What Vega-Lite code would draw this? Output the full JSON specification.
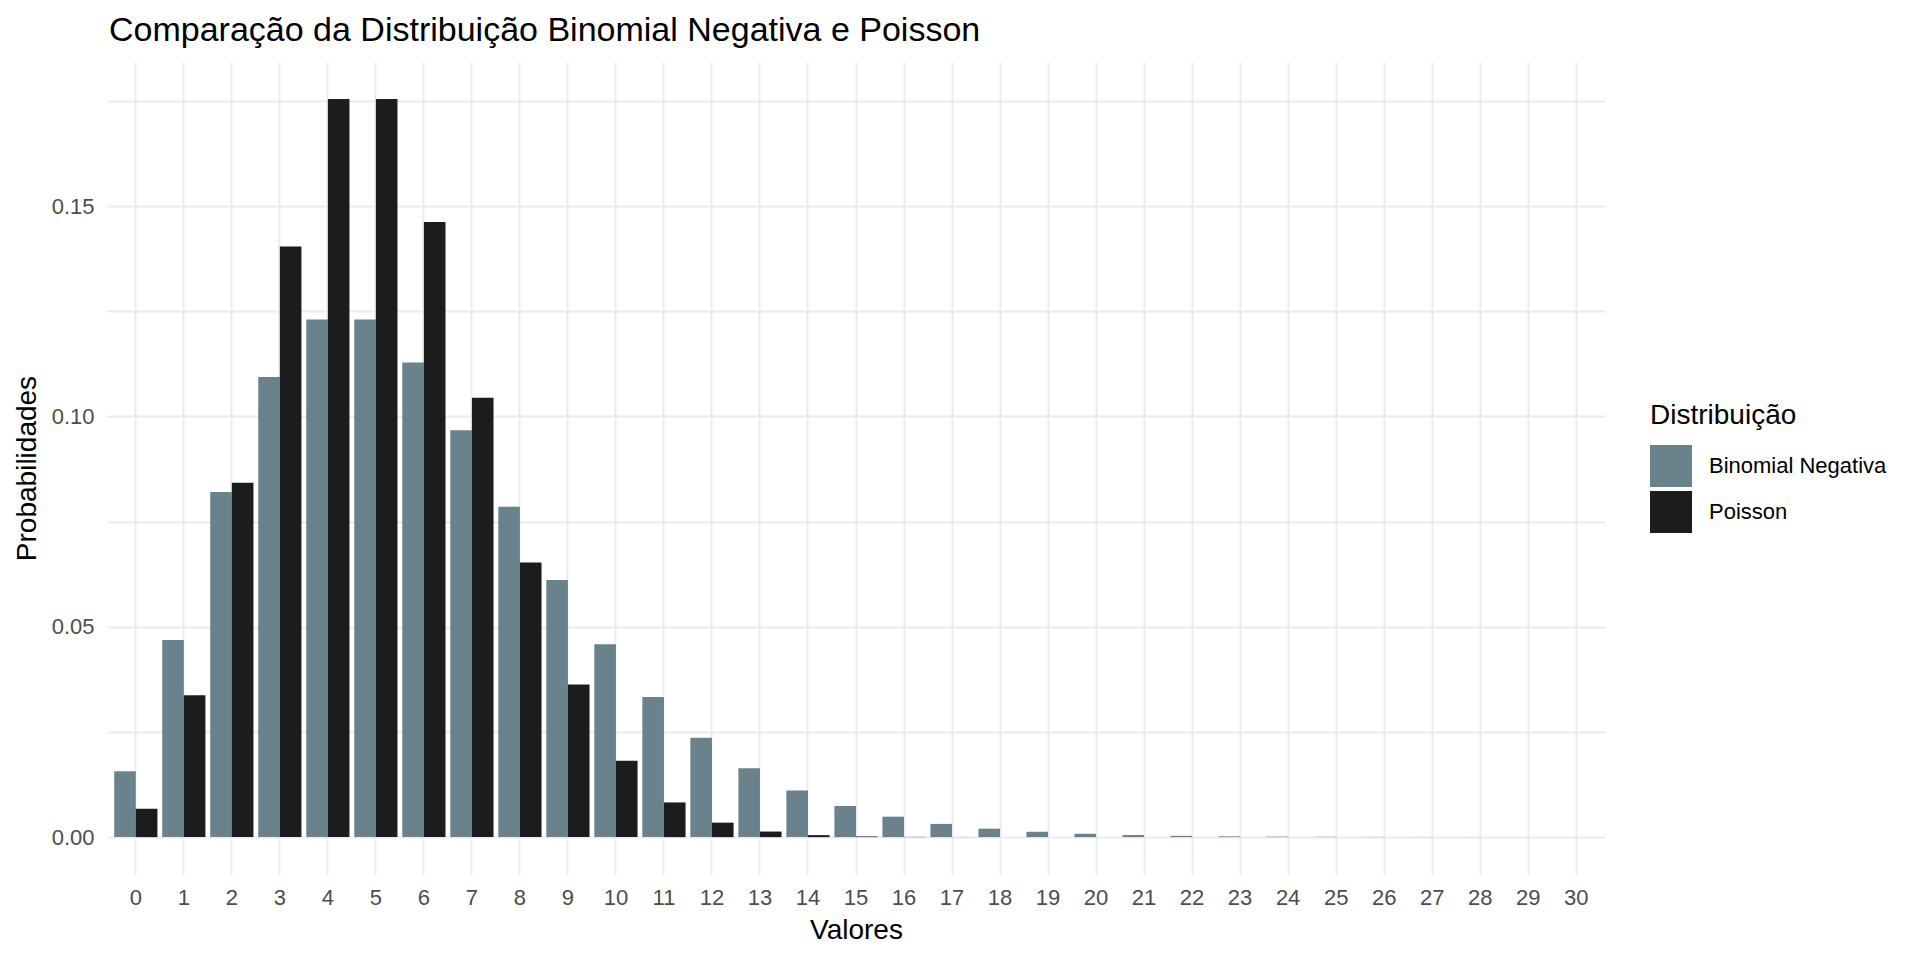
{
  "$schema": "https://vega.github.io/schema/vega-lite/v6.json",
  "autosize": {"type": "none"},
  "padding": {"left": 107, "top": 62, "right": 315, "bottom": 86},
  "width": 1498,
  "height": 812,
  "background": "white",
  "title": {
    "text": "Comparação da Distribuição Binomial Negativa e Poisson",
    "anchor": "start",
    "frame": "group",
    "font": "Liberation Sans",
    "fontSize": 34,
    "fontWeight": "normal",
    "color": "black",
    "offset": 14,
    "dx": 2
  },
  "config": {
    "view": {"stroke": null},
    "font": "Liberation Sans"
  },
  "data": {
    "values": [
      {"valor": 0, "dist": "Binomial Negativa", "prob": 0.015625},
      {"valor": 1, "dist": "Binomial Negativa", "prob": 0.046875},
      {"valor": 2, "dist": "Binomial Negativa", "prob": 0.08203125},
      {"valor": 3, "dist": "Binomial Negativa", "prob": 0.109375},
      {"valor": 4, "dist": "Binomial Negativa", "prob": 0.123046875},
      {"valor": 5, "dist": "Binomial Negativa", "prob": 0.123046875},
      {"valor": 6, "dist": "Binomial Negativa", "prob": 0.112792969},
      {"valor": 7, "dist": "Binomial Negativa", "prob": 0.096679688},
      {"valor": 8, "dist": "Binomial Negativa", "prob": 0.078552246},
      {"valor": 9, "dist": "Binomial Negativa", "prob": 0.061096191},
      {"valor": 10, "dist": "Binomial Negativa", "prob": 0.045822144},
      {"valor": 11, "dist": "Binomial Negativa", "prob": 0.033325195},
      {"valor": 12, "dist": "Binomial Negativa", "prob": 0.023605347},
      {"valor": 13, "dist": "Binomial Negativa", "prob": 0.016342163},
      {"valor": 14, "dist": "Binomial Negativa", "prob": 0.011089325},
      {"valor": 15, "dist": "Binomial Negativa", "prob": 0.007392883},
      {"valor": 16, "dist": "Binomial Negativa", "prob": 0.00485158},
      {"valor": 17, "dist": "Binomial Negativa", "prob": 0.003139257},
      {"valor": 18, "dist": "Binomial Negativa", "prob": 0.002005637},
      {"valor": 19, "dist": "Binomial Negativa", "prob": 0.001266718},
      {"valor": 20, "dist": "Binomial Negativa", "prob": 0.000791699},
      {"valor": 21, "dist": "Binomial Negativa", "prob": 0.000490099},
      {"valor": 22, "dist": "Binomial Negativa", "prob": 0.000300742},
      {"valor": 23, "dist": "Binomial Negativa", "prob": 0.000183062},
      {"valor": 24, "dist": "Binomial Negativa", "prob": 0.0001106},
      {"valor": 25, "dist": "Binomial Negativa", "prob": 0.00006636},
      {"valor": 26, "dist": "Binomial Negativa", "prob": 0.00003956},
      {"valor": 27, "dist": "Binomial Negativa", "prob": 0.000023442},
      {"valor": 28, "dist": "Binomial Negativa", "prob": 0.000013815},
      {"valor": 29, "dist": "Binomial Negativa", "prob": 0.000008098},
      {"valor": 30, "dist": "Binomial Negativa", "prob": 0.000004724},
      {"valor": 0, "dist": "Poisson", "prob": 0.006738},
      {"valor": 1, "dist": "Poisson", "prob": 0.03369},
      {"valor": 2, "dist": "Poisson", "prob": 0.084224},
      {"valor": 3, "dist": "Poisson", "prob": 0.140374},
      {"valor": 4, "dist": "Poisson", "prob": 0.175467},
      {"valor": 5, "dist": "Poisson", "prob": 0.175467},
      {"valor": 6, "dist": "Poisson", "prob": 0.146223},
      {"valor": 7, "dist": "Poisson", "prob": 0.104445},
      {"valor": 8, "dist": "Poisson", "prob": 0.065278},
      {"valor": 9, "dist": "Poisson", "prob": 0.036266},
      {"valor": 10, "dist": "Poisson", "prob": 0.018133},
      {"valor": 11, "dist": "Poisson", "prob": 0.008242},
      {"valor": 12, "dist": "Poisson", "prob": 0.003434},
      {"valor": 13, "dist": "Poisson", "prob": 0.001321},
      {"valor": 14, "dist": "Poisson", "prob": 0.000472},
      {"valor": 15, "dist": "Poisson", "prob": 0.000157},
      {"valor": 16, "dist": "Poisson", "prob": 0.0000491},
      {"valor": 17, "dist": "Poisson", "prob": 0.0000144},
      {"valor": 18, "dist": "Poisson", "prob": 0.000004},
      {"valor": 19, "dist": "Poisson", "prob": 0.0000011},
      {"valor": 20, "dist": "Poisson", "prob": 0.00000026},
      {"valor": 21, "dist": "Poisson", "prob": 0.000000062},
      {"valor": 22, "dist": "Poisson", "prob": 0.000000014},
      {"valor": 23, "dist": "Poisson", "prob": 0.000000003},
      {"valor": 24, "dist": "Poisson", "prob": 0.0000000006},
      {"valor": 25, "dist": "Poisson", "prob": 0.0000000001},
      {"valor": 26, "dist": "Poisson", "prob": 0},
      {"valor": 27, "dist": "Poisson", "prob": 0},
      {"valor": 28, "dist": "Poisson", "prob": 0},
      {"valor": 29, "dist": "Poisson", "prob": 0},
      {"valor": 30, "dist": "Poisson", "prob": 0}
    ]
  },
  "mark": {"type": "bar"},
  "encoding": {
    "x": {
      "field": "valor",
      "type": "ordinal",
      "title": "Valores",
      "scale": {"paddingInner": 0.1, "paddingOuter": 0.15},
      "axis": {
        "labelAngle": 0,
        "bandPosition": 0.5,
        "grid": true,
        "gridColor": "#EBEBEB",
        "gridWidth": 2,
        "domain": false,
        "ticks": false,
        "labelFontSize": 22,
        "labelColor": "#4D4D4D",
        "labelPadding": 13,
        "titleFontSize": 28,
        "titleFontWeight": "normal",
        "titleColor": "black",
        "titlePadding": 8
      }
    },
    "xOffset": {
      "field": "dist",
      "type": "nominal",
      "scale": {"paddingInner": 0, "paddingOuter": 0}
    },
    "y": {
      "field": "prob",
      "type": "quantitative",
      "stack": null,
      "title": "Probabilidades",
      "scale": {"domain": [-0.00877, 0.18424], "nice": false, "zero": false},
      "axis": {
        "values": [0, 0.025, 0.05, 0.075, 0.1, 0.125, 0.15, 0.175],
        "labelExpr": "round(datum.value * 1000) % 50 == 0 ? format(datum.value, '.2f') : ''",
        "grid": true,
        "gridColor": "#EBEBEB",
        "gridWidth": 2,
        "domain": false,
        "ticks": false,
        "labelFontSize": 22,
        "labelColor": "#4D4D4D",
        "labelPadding": 13,
        "titleFontSize": 28,
        "titleFontWeight": "normal",
        "titleColor": "black",
        "titlePadding": 10
      }
    },
    "y2": {"datum": 0},
    "color": {
      "field": "dist",
      "type": "nominal",
      "title": "Distribuição",
      "scale": {
        "domain": ["Binomial Negativa", "Poisson"],
        "range": ["#6A828B", "#1C1C1C"]
      },
      "legend": {
        "orient": "none",
        "legendX": 1543,
        "legendY": 340,
        "symbolType": "square",
        "symbolSize": 1764,
        "symbolStrokeWidth": 0,
        "symbolOpacity": 1,
        "rowPadding": 4,
        "labelOffset": 17,
        "labelLimit": 0,
        "labelFontSize": 22,
        "labelColor": "black",
        "titleFontSize": 28,
        "titleFontWeight": "normal",
        "titleColor": "black",
        "titlePadding": 15
      }
    }
  }
}
